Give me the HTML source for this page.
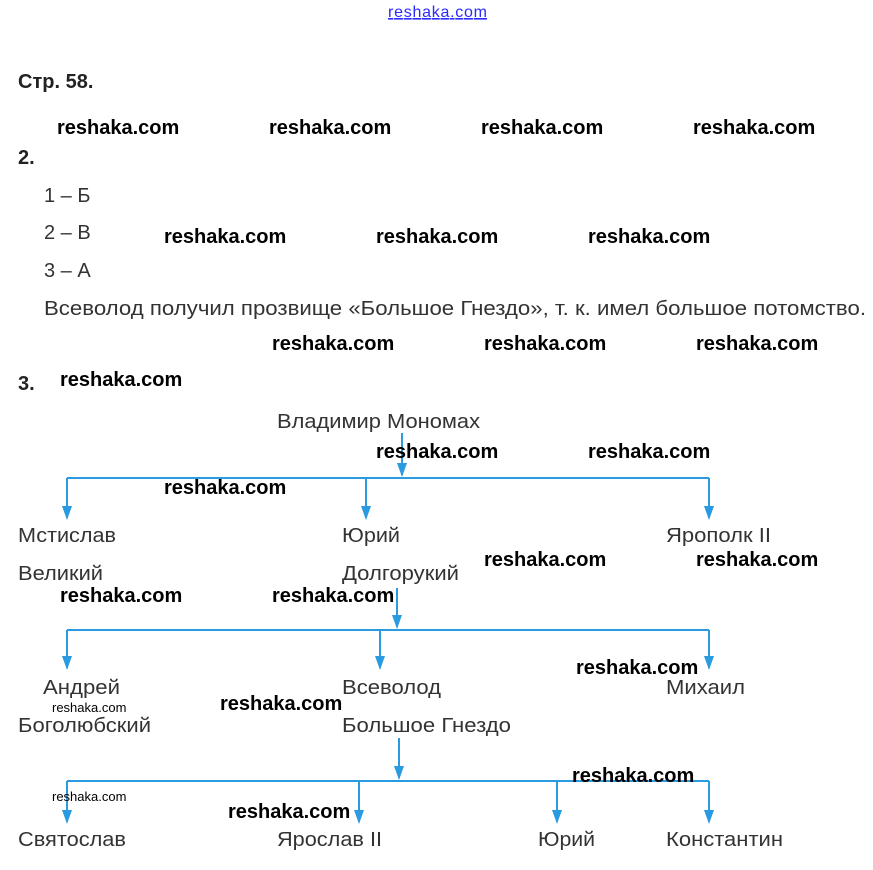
<!DOCTYPE html>
<html><head><meta charset="utf-8"><style>
html,body{margin:0;padding:0;background:#fff;width:873px;height:870px;overflow:hidden}
svg{display:block}
.t{font-family:"Liberation Sans",sans-serif;font-size:20px;fill:#333}
.b{font-family:"Liberation Sans",sans-serif;font-size:20px;font-weight:bold;fill:#222}
.w{font-family:"Liberation Sans",sans-serif;font-size:20px;font-weight:bold;fill:#000}
.s{font-family:"Liberation Sans",sans-serif;font-size:13px;fill:#000}
</style></head><body>
<svg width="873" height="870" xmlns="http://www.w3.org/2000/svg">
<text x="388" y="17" font-family="Liberation Sans,sans-serif" font-size="16" fill="#2a2aff" textLength="99" text-decoration="underline">reshaka.com</text>
<text class="b" x="18" y="88">Стр. 58.</text>
<text class="b" x="18" y="164">2.</text>
<text class="t" x="44" y="202">1 – Б</text>
<text class="t" x="44" y="239">2 – В</text>
<text class="t" x="44" y="277">3 – А</text>
<text class="t" x="44" y="315" textLength="822" lengthAdjust="spacingAndGlyphs">Всеволод получил прозвище «Большое Гнездо», т. к. имел большое потомство.</text>
<text class="b" x="18" y="390">3.</text>
<g stroke="#2a9be0" stroke-width="2" fill="none">
<path d="M402 433V475M67 478H709"/>
<path d="M67 478V518M366 478V518M709 478V518"/>
<path d="M397 588V627M67 630H709"/>
<path d="M67 630V668M380 630V668M709 630V668"/>
<path d="M399 738V778M67 781H709"/>
<path d="M67 781V822M359 781V822M557 781V822M709 781V822"/>
</g>
<g fill="#2a9be0">
<path d="M397 463h10l-5 14z"/><path d="M62 506h10l-5 14z"/><path d="M361 506h10l-5 14z"/><path d="M704 506h10l-5 14z"/>
<path d="M392 615h10l-5 14z"/><path d="M62 656h10l-5 14z"/><path d="M375 656h10l-5 14z"/><path d="M704 656h10l-5 14z"/>
<path d="M394 766h10l-5 14z"/><path d="M62 810h10l-5 14z"/><path d="M354 810h10l-5 14z"/><path d="M552 810h10l-5 14z"/><path d="M704 810h10l-5 14z"/>
</g>
<g lengthAdjust="spacingAndGlyphs">
<text class="t" x="277" y="428" textLength="203" lengthAdjust="spacingAndGlyphs">Владимир Мономах</text>
<text class="t" x="18" y="542" textLength="98" lengthAdjust="spacingAndGlyphs">Мстислав</text>
<text class="t" x="18" y="580" textLength="85" lengthAdjust="spacingAndGlyphs">Великий</text>
<text class="t" x="342" y="542" textLength="58" lengthAdjust="spacingAndGlyphs">Юрий</text>
<text class="t" x="342" y="580" textLength="117" lengthAdjust="spacingAndGlyphs">Долгорукий</text>
<text class="t" x="666" y="542" textLength="105" lengthAdjust="spacingAndGlyphs">Ярополк II</text>
<text class="t" x="43" y="694" textLength="77" lengthAdjust="spacingAndGlyphs">Андрей</text>
<text class="t" x="18" y="732" textLength="133" lengthAdjust="spacingAndGlyphs">Боголюбский</text>
<text class="t" x="342" y="694" textLength="99" lengthAdjust="spacingAndGlyphs">Всеволод</text>
<text class="t" x="342" y="732" textLength="169" lengthAdjust="spacingAndGlyphs">Большое Гнездо</text>
<text class="t" x="666" y="694" textLength="79" lengthAdjust="spacingAndGlyphs">Михаил</text>
<text class="t" x="18" y="846" textLength="108" lengthAdjust="spacingAndGlyphs">Святослав</text>
<text class="t" x="277" y="846" textLength="105" lengthAdjust="spacingAndGlyphs">Ярослав II</text>
<text class="t" x="538" y="846" textLength="57" lengthAdjust="spacingAndGlyphs">Юрий</text>
<text class="t" x="666" y="846" textLength="117" lengthAdjust="spacingAndGlyphs">Константин</text>
</g>
<g>
<text class="w" x="57" y="134">reshaka.com</text><text class="w" x="269" y="134">reshaka.com</text><text class="w" x="481" y="134">reshaka.com</text><text class="w" x="693" y="134">reshaka.com</text>
<text class="w" x="164" y="243">reshaka.com</text><text class="w" x="376" y="243">reshaka.com</text><text class="w" x="588" y="243">reshaka.com</text>
<text class="w" x="272" y="350">reshaka.com</text><text class="w" x="484" y="350">reshaka.com</text><text class="w" x="696" y="350">reshaka.com</text>
<text class="w" x="60" y="386">reshaka.com</text>
<text class="w" x="376" y="458">reshaka.com</text><text class="w" x="588" y="458">reshaka.com</text>
<text class="w" x="164" y="494">reshaka.com</text>
<text class="w" x="484" y="566">reshaka.com</text><text class="w" x="696" y="566">reshaka.com</text>
<text class="w" x="60" y="602">reshaka.com</text><text class="w" x="272" y="602">reshaka.com</text>
<text class="w" x="576" y="674">reshaka.com</text>
<text class="w" x="220" y="710">reshaka.com</text>
<text class="w" x="572" y="782">reshaka.com</text>
<text class="w" x="228" y="818">reshaka.com</text>
</g>
<text class="s" x="52" y="712">reshaka.com</text>
<text class="s" x="52" y="801">reshaka.com</text>
</svg>
</body></html>
